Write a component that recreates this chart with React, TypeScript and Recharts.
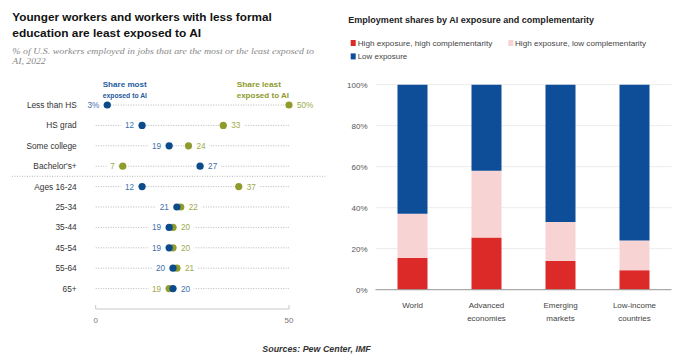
import React from 'react';
import {
    ScatterChart,
    Scatter,
    XAxis,
    YAxis,
    ReferenceLine,
    BarChart,
    Bar,
    CartesianGrid,
} from 'recharts';

// left panel: share of U.S. workers, most / least exposed to AI
const groups = ['Less than HS', 'HS grad', 'Some college', "Bachelor's+", 'Ages 16-24', '25-34', '35-44', '45-54', '55-64', '65+'];
const mostExposed = [3, 12, 19, 27, 12, 21, 19, 19, 20, 20];
const leastExposed = [50, 33, 24, 7, 37, 22, 20, 20, 21, 19];
const shareTicks = [0, 50];

// right panel: employment shares by exposure and complementarity
const regions = ['World', 'Advanced economies', 'Emerging markets', 'Low-income countries'];
const highHigh = [15.5, 25.5, 14, 9.5];
const highLow = [21.5, 32.5, 19, 14.5];
const lowExposure = [63, 42, 67, 76];
const pctTicks = [0, 20, 40, 60, 80, 100];

const SANS = "'Liberation Sans', Arial, sans-serif";
const SERIF = "'Liberation Serif', 'DejaVu Serif', serif";

const BLUE = '#0b4a8b';
const OLIVE = '#8f9c2c';
const BLUE_TXT = '#3f70ab';
const OLIVE_TXT = '#a0aa4a';

const rowIdx = groups.map((_, i) => i);

const mostData = groups.map((g, i) => ({ x: mostExposed[i], y: i, other: leastExposed[i], row: i }));
const leastData = groups.map((g, i) => ({ x: leastExposed[i], y: i, other: mostExposed[i], row: i }));

const barData = regions.map((name, i) => ({
    name,
    highHigh: highHigh[i],
    highLow: highLow[i],
    low: lowExposure[i],
}));

const makeDot = (fill: string, labelColor: string) => (props: any) => {
    const { cx, cy, payload } = props;
    if (cx == null || cy == null) return null;
    const onLeft = payload.x < payload.other;
    const txt = payload.row === 0 ? `${payload.x}%` : `${payload.x}`;
    const w = txt.length * 4.6;
    const tx = onLeft ? cx - 8 : cx + 8;
    return (
        <g>
            <rect x={onLeft ? tx - w - 3.5 : tx - 3.5} y={cy - 5} width={w + 7} height={10} fill="#fff" />
            <text x={tx} y={cy + 3} textAnchor={onLeft ? 'end' : 'start'} fontSize={8.2} fontFamily={SANS} fill={labelColor}>
                {txt}
            </text>
            <circle cx={cx} cy={cy} r={3.6} fill={fill} />
        </g>
    );
};

const RowTick = (p: any) => (
    <text x={p.x - 11} y={p.y + 3} textAnchor="end" fontSize={8.3} fontFamily={SANS} fill="#333">
        {groups[p.payload.value]}
    </text>
);

const ShareTick = (p: any) => (
    <g>
        <line x1={p.x} x2={p.x} y1={p.y - 8} y2={p.y - 12} stroke="#c8c8c8" />
        <text x={p.x} y={p.y + 5.5} textAnchor="middle" fontSize={8} fontFamily={SANS} fill="#777">
            {p.payload.value}
        </text>
    </g>
);

const RegionTick = (p: any) => {
    const lines = String(p.payload.value).split(' ');
    return (
        <text x={p.x} y={p.y} textAnchor="middle" fontSize={8} fontFamily={SANS} fill="#444">
            {lines.map((l, i) => (
                <tspan key={i} x={p.x} dy={i === 0 ? 10 : 13.6}>
                    {l}
                </tspan>
            ))}
        </text>
    );
};

function DotPlot() {
    return (
        <ScatterChart width={330} height={358} margin={{ top: 105, right: 41, bottom: 29, left: 0 }}>
            <XAxis
                type="number"
                dataKey="x"
                domain={[0, 50]}
                ticks={shareTicks}
                height={20}
                axisLine={{ stroke: '#c8c8c8' }}
                tickLine={false}
                tick={<ShareTick />}
            />
            <YAxis
                type="number"
                dataKey="y"
                domain={[0, 10]}
                reversed
                ticks={rowIdx}
                interval={0}
                width={95.7}
                axisLine={false}
                tickLine={false}
                tick={<RowTick />}
            />
            {rowIdx.map((i) => (
                <ReferenceLine key={i} y={i} stroke="#b8b8b8" strokeDasharray="1 1.5" />
            ))}
            <Scatter data={leastData} isAnimationActive={false} shape={makeDot(OLIVE, OLIVE_TXT)} />
            <Scatter data={mostData} isAnimationActive={false} shape={makeDot(BLUE, BLUE_TXT)} />
        </ScatterChart>
    );
}

function ShareBars() {
    return (
        <BarChart width={344} height={358} data={barData} margin={{ top: 84.7, right: 2.5, bottom: 28.3, left: 0 }} barSize={30}>
            <CartesianGrid vertical={false} stroke="#ececec" />
            <XAxis dataKey="name" height={40} axisLine={{ stroke: '#9a9a9a' }} tickLine={false} tick={<RegionTick />} interval={0} />
            <YAxis
                domain={[0, 100]}
                ticks={pctTicks}
                width={45.5}
                axisLine={false}
                tickLine={false}
                tickFormatter={(v) => `${v}%`}
                tick={{ fontSize: 8, fill: '#555', fontFamily: SANS }}
            />
            <Bar dataKey="highHigh" stackId="a" fill="#dc2a28" isAnimationActive={false} />
            <Bar dataKey="highLow" stackId="a" fill="#f8d3d3" isAnimationActive={false} />
            <Bar dataKey="low" stackId="a" fill="#0e4d98" isAnimationActive={false} />
        </BarChart>
    );
}

export default function App() {
    return (
        <div style={{ position: 'absolute', left: 0, top: 0, width: 674, height: 358, background: '#fff', overflow: 'hidden' }}>
            <div style={{ position: 'absolute', left: 0, top: 0 }}>
                <DotPlot />
            </div>
            <div style={{ position: 'absolute', left: 330, top: 0 }}>
                <ShareBars />
            </div>
            <svg width={674} height={358} style={{ position: 'absolute', left: 0, top: 0, pointerEvents: 'none' }}>
                {/* left panel titles */}
                <g fontFamily={SANS} fontWeight="bold" fill="#111" fontSize={10.5}>
                    <text x={12.3} y={21.3} textLength={259.4} lengthAdjust="spacingAndGlyphs">
                        Younger workers and workers with less formal
                    </text>
                    <text x={12.3} y={36.8} textLength={188.8} lengthAdjust="spacingAndGlyphs">
                        education are least exposed to AI
                    </text>
                </g>
                <g fontFamily={SERIF} fontStyle="italic" fill="#888" fontSize={8.4}>
                    <text x={12.3} y={54} textLength={301.7} lengthAdjust="spacingAndGlyphs">
                        % of U.S. workers employed in jobs that are the most or the least exposed to
                    </text>
                    <text x={12.3} y={63.5} textLength={33.4} lengthAdjust="spacingAndGlyphs">
                        AI, 2022
                    </text>
                </g>
                <g fontFamily={SANS} fontWeight="bold" fontSize={7.8}>
                    <text x={102.7} y={87.3} fill="#1f5c9c" textLength={44} lengthAdjust="spacingAndGlyphs">Share most</text>
                    <text x={102.7} y={97.5} fill="#1f5c9c" textLength={44.3} lengthAdjust="spacingAndGlyphs">exposed to AI</text>
                    <text x={236.7} y={87.3} fill="#8f9a2e" textLength={44.3} lengthAdjust="spacingAndGlyphs">Share least</text>
                    <text x={236.7} y={97.5} fill="#8f9a2e" textLength={52.3} lengthAdjust="spacingAndGlyphs">exposed to AI</text>
                </g>
                <line x1={12} x2={326} y1={176.3} y2={176.3} stroke="#b8b8b8" strokeDasharray="1 1.5" />

                {/* right panel title and legend */}
                <text x={348.3} y={22.6} fontFamily={SANS} fontWeight="bold" fontSize={9} fill="#222" textLength={245.7} lengthAdjust="spacingAndGlyphs">
                    Employment shares by AI exposure and complementarity
                </text>
                <rect x={350.7} y={40} width={5} height={6} fill="#dc2a28" />
                <rect x={508.3} y={40} width={5} height={6} fill="#f8d3d3" />
                <rect x={350.7} y={53.4} width={5} height={6} fill="#0e4d98" />
                <g fontFamily={SANS} fontSize={8} fill="#444">
                    <text x={357.7} y={45.6} textLength={134.6} lengthAdjust="spacingAndGlyphs">High exposure, high complementarity</text>
                    <text x={515} y={45.6} textLength={131} lengthAdjust="spacingAndGlyphs">High exposure, low complementarity</text>
                    <text x={357.7} y={59} textLength={49.6} lengthAdjust="spacingAndGlyphs">Low exposure</text>
                </g>

                <text x={262.3} y={352.3} fontFamily={SANS} fontWeight="bold" fontStyle="italic" fontSize={8.5} fill="#333" textLength={108.4} lengthAdjust="spacingAndGlyphs">
                    Sources: Pew Center, IMF
                </text>
            </svg>
        </div>
    );
}
